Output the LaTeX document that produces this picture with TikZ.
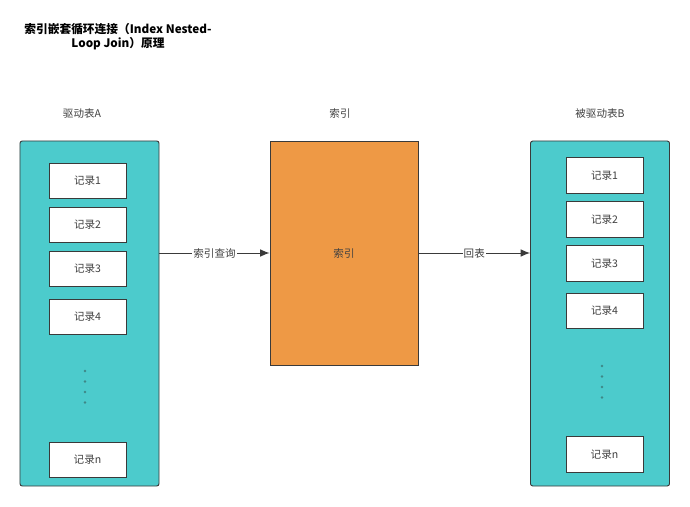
\documentclass[tikz,border=0pt]{standalone}
\usepackage{fontspec}
\setmainfont{Noto Sans CJK SC}
\usepackage{xcolor}
\usetikzlibrary{positioning,arrows.meta,calc}

\definecolor{tealfill}{HTML}{4CCBCC}
\definecolor{orangefill}{HTML}{EE9945}
\definecolor{linegray}{HTML}{3A3A3A}
\definecolor{dotgray}{HTML}{3E8787}

\begin{document}
\begin{tikzpicture}[
  x=0.03cm, y=-0.03cm,
  table/.style={rectangle, draw=linegray, thick, fill=tealfill, rounded corners=2pt, minimum width=4.17cm, minimum height=10.35cm},
  record/.style={rectangle, draw=linegray, thick, fill=white, minimum width=2.31cm, minimum height=1.07cm, align=center, font=\small, text=black!75},
  indexbox/.style={rectangle, draw=linegray, thick, fill=orangefill, minimum width=4.44cm, minimum height=6.72cm, font=\small, text=black!75},
  caption/.style={font=\small, text=black!75},
  title/.style={font=\normalsize\bfseries, align=center, inner sep=0pt},
  arrow/.style={-{Latex[length=8pt, width=6.5pt]}, thick, linegray},
  edgelabel/.style={fill=white, inner sep=1pt, font=\small, text=black!75},
  dot/.style={circle, fill=dotgray, inner sep=0pt, minimum size=2.2pt}
]

\useasboundingbox (0,0) rectangle (690,507);

% Title
\node[title] (title) at (118,37) {索引嵌套循环连接（Index Nested-\\Loop Join）原理};

% Driving table A
\node[caption] (capA) at (82,113) {驱动表A};
\node[table] (tableA) at (89.5,313.5) {};
\node[record] (a1) at (87.5,181) {记录1};
\node[record] (a2) at (87.5,225) {记录2};
\node[record] (a3) at (87.5,269) {记录3};
\node[record] (a4) at (87.5,317) {记录4};
\node[record] (an) at (87.5,460) {记录n};
\node[dot] (ad1) at (85,371) {};
\node[dot] (ad2) at (85,381.5) {};
\node[dot] (ad3) at (85,392) {};
\node[dot] (ad4) at (85,402.5) {};

% Index
\node[caption] (capIdx) at (340,113) {索引};
\node[indexbox] (idx) at (344,253) {索引};

% Driven table B
\node[caption] (capB) at (600,113) {被驱动表B};
\node[table] (tableB) at (600,313.5) {};
\node[record] (b1) at (604.5,175.5) {记录1};
\node[record] (b2) at (604.5,219.5) {记录2};
\node[record] (b3) at (604.5,263.5) {记录3};
\node[record] (b4) at (604.5,311) {记录4};
\node[record] (bn) at (604.5,454.5) {记录n};
\node[dot] (bd1) at (602,366) {};
\node[dot] (bd2) at (602,376.5) {};
\node[dot] (bd3) at (602,387) {};
\node[dot] (bd4) at (602,397.5) {};

% Connections
\draw[arrow] (tableA.east |- idx.west) -- node[edgelabel] {索引查询} (idx.west);
\draw[arrow] (idx.east) -- node[edgelabel] {回表} (tableB.west |- idx.east);

\end{tikzpicture}
\end{document}
